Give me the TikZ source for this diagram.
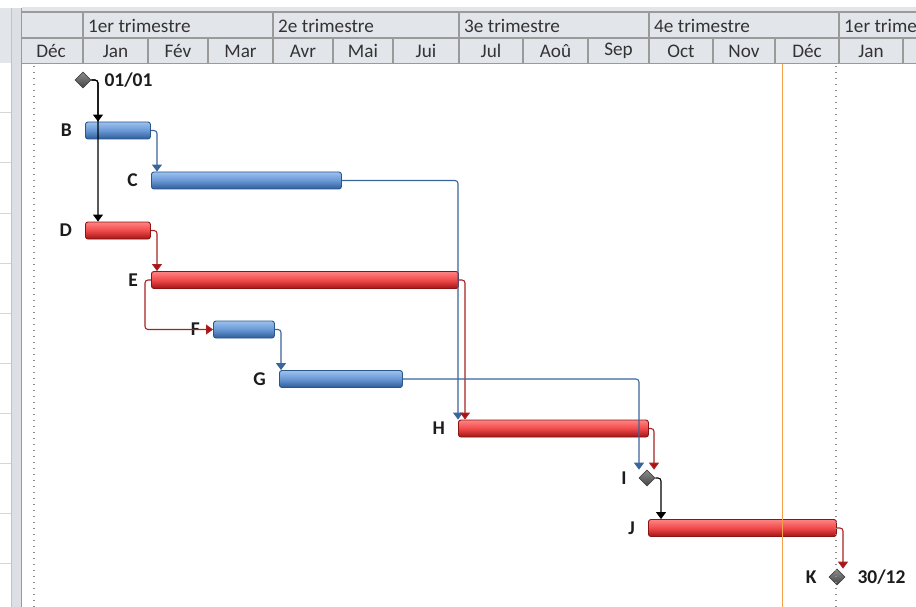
\documentclass[tikz,border=0pt]{standalone}
\usepackage{fontspec}
\setmainfont{Carlito}
\usetikzlibrary{arrows.meta,shapes.geometric,positioning,calc}

\definecolor{hdrbg}{HTML}{E2E5EA}
\definecolor{hdrline}{HTML}{9A9A9A}
\definecolor{hdrtext}{HTML}{333333}
\definecolor{paneline}{HTML}{D6D6D6}
\definecolor{splitbg}{HTML}{DCDFE4}
\definecolor{splitedge}{HTML}{BFC2C7}
\definecolor{blueTop}{HTML}{9CC2EE}
\definecolor{blueMid}{HTML}{6897D4}
\definecolor{blueBot}{HTML}{2E5C98}
\definecolor{blueEdge}{HTML}{2B568C}
\definecolor{redTop}{HTML}{FF8484}
\definecolor{redMid}{HTML}{F04A4A}
\definecolor{redBot}{HTML}{A01414}
\definecolor{redEdge}{HTML}{8C1414}
\definecolor{blueLink}{HTML}{3A669C}
\definecolor{redLink}{HTML}{A82222}
\definecolor{redTip}{HTML}{B01010}
\definecolor{msTop}{HTML}{8E8E8E}
\definecolor{msBot}{HTML}{444444}
\definecolor{todayLine}{HTML}{F6A04C}
\definecolor{dotLine}{HTML}{8C8C8C}
\definecolor{lblText}{HTML}{1C1C1C}

\tikzset{
  hdrtxt/.style={text=hdrtext, inner sep=0pt, font=\fontsize{19.2}{19.2}\selectfont},
  taskbar/.style={rectangle, inner sep=0pt, minimum height=17pt, rounded corners=2.5pt,
    line width=0.9pt, anchor=west},
  bluebar/.style={taskbar, draw=blueEdge, top color=blueTop, bottom color=blueBot, middle color=blueMid},
  redbar/.style={taskbar, draw=redEdge, top color=redTop, bottom color=redBot, middle color=redMid},
  milestone/.style={diamond, inner sep=0pt, minimum width=16pt, minimum height=16pt,
    draw=msBot, line width=0.6pt, top color=msTop, bottom color=msBot},
  lbl/.style={inner sep=0pt, text=lblText, font=\bfseries\fontsize{19.5}{19.5}\selectfont},
  link/.style={line width=1.1pt, rounded corners=3pt},
  bluelink/.style={link, draw=blueLink, -{Triangle[width=10pt,length=7pt]}},
  redlink/.style={link, draw=redLink, -{Triangle[width=10pt,length=7pt,fill=redTip]}},
  blacklink/.style={link, draw=black, -{Triangle[width=10pt,length=7pt]}},
}

\begin{document}
\begin{tikzpicture}[x=1pt,y=-1pt]
\useasboundingbox (0,0) rectangle (916,607);
\fill[white] (0,0) rectangle (916,607);

% left table pane and splitter
\fill[hdrbg] (0,8) rectangle (11,63);
\foreach \yy in {113,163,...,563}
  \draw[paneline, line width=1pt] (0,\yy) -- (11,\yy);
\fill[splitbg] (11,8) rectangle (22,607);
\draw[splitedge, line width=1pt] (11.5,8) -- (11.5,607);
\draw[hdrline, line width=1.2pt] (21.2,8) -- (21.2,607);

% timescale header
\begin{scope}
\clip (22,0) rectangle (916,607);
\fill[hdrbg] (22,7) rectangle (916,64);
\draw[hdrline, line width=1.2pt] (22,12) -- (916,12);
\draw[hdrline, line width=1.2pt] (22,38) -- (916,38);
\draw[hdrline, line width=1.2pt] (22,63.5) -- (916,63.5);
\foreach \qx in {83,273,459,649,839}
  \draw[hdrline, line width=1.2pt] (\qx,12) -- (\qx,38);
\foreach \mx in {83,148,208,273,333,393,459,523,588,649,713,775,839,903}
  \draw[hdrline, line width=1.2pt] (\mx,38) -- (\mx,63.5);
\foreach \qx/\qt [count=\qi] in {83/1er trimestre,273/2e trimestre,459/3e trimestre,649/4e trimestre,839/1er trimestre}
  \node[hdrtxt, anchor=west] (q\qi) at (\qx+5,25.5) {\qt};
\foreach \cx/\mt [count=\mi] in {51/Déc,115.5/Jan,178/Fév,240.5/Mar,303/Avr,363/Mai,426/Jui,491/Jul,555.5/Aoû,618.5/Sep,681/Oct,744/Nov,807/Déc,871/Jan}
  \node[hdrtxt] (m\mi) at (\cx,51) {\mt};
\end{scope}

% milestones and task bars
\node[milestone] (A) at (83,80) {};
\node[bluebar, minimum width=65pt]  (B) at (85,130.5) {};
\node[bluebar, minimum width=190pt] (C) at (151,180.5) {};
\node[redbar,  minimum width=65pt]  (D) at (85,230.5) {};
\node[redbar,  minimum width=307pt] (E) at (151,280) {};
\node[bluebar, minimum width=61pt]  (F) at (213,329.5) {};
\node[bluebar, minimum width=123pt] (G) at (279,379) {};
\node[redbar,  minimum width=190pt] (H) at (458,428.5) {};
\node[milestone] (I) at (647,478) {};
\node[redbar,  minimum width=188pt] (J) at (648,528) {};
\node[milestone] (K) at (837,577) {};

% task names and dates
\node[lbl, right=13pt of A] (dA) {01/01};
\node[lbl, left=13pt of B] (lB) {B};
\node[lbl, left=13pt of C] (lC) {C};
\node[lbl, left=13pt of D] (lD) {D};
\node[lbl, left=13pt of E] (lE) {E};
\node[lbl, left=13pt of F] (lF) {F};
\node[lbl, left=13pt of G] (lG) {G};
\node[lbl, left=13pt of H] (lH) {H};
\node[lbl, left=12pt of I] (lI) {I};
\node[lbl, left=13pt of J] (lJ) {J};
\node[lbl, left=12pt of K] (lK) {K};
\node[lbl, right=12pt of K] (dK) {30/12};

% dependency links
\draw[blacklink] (A.east) -| ($(D.north west)+(13,0)$);
\draw[blacklink] (A.east) -| ($(B.north west)+(13,0)$);
\draw[bluelink] (B.east) -| ($(C.north west)+(6,0)$);
\draw[redlink]  (D.east) -| ($(E.north west)+(6,0)$);
\draw[redlink]  (E.west) -- ++(-6,0) |- (F.west);
\draw[bluelink] (F.east) -| ($(G.north west)+(2,0)$);
\draw[bluelink] (C.east) -| ($(H.north west)+(0,0)$);
\draw[redlink]  (E.east) -| ($(H.north west)+(7,0)$);
\draw[bluelink] (G.east) -| ($(I.north)+(-8,0)$);
\draw[redlink]  (H.east) -| ($(I.north)+(7,0)$);
\draw[blacklink] (I.east) -| ($(J.north west)+(13,0)$);
\draw[redlink]  (J.east) -| ($(K.north)+(6,0)$);

% project start/finish gridlines and status date
\draw[dotLine, line width=1.1pt, dash pattern=on 1.1pt off 4.9pt] (34,66) -- (34,607);
\draw[dotLine, line width=1.1pt, dash pattern=on 1.1pt off 4.9pt] (836,66) -- (836,607);
\draw[todayLine, line width=1.3pt] (782.5,64) -- (782.5,607);
\end{tikzpicture}
\end{document}
